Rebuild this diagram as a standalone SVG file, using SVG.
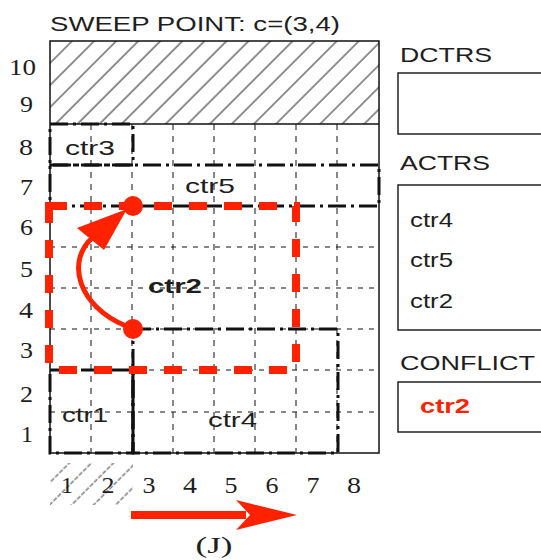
<svg xmlns="http://www.w3.org/2000/svg" width="541" height="560" viewBox="0 0 541 560">
<style>
.sans{font-family:"Liberation Sans",Arial,sans-serif;fill:#1e1e1e;font-size:21px}
.serif{font-family:"Liberation Serif","Times New Roman",serif;fill:#1e1e1e;font-size:24px}
.grid{stroke:#111;stroke-width:1;fill:none}
.ctr{fill:none;stroke:#111;stroke-width:3;stroke-dasharray:18 5 3 5}
.panel{fill:#fff;stroke:#222;stroke-width:1.5}
.red{fill:#ff2200}
</style>
<defs>
<pattern id="hatch" patternUnits="userSpaceOnUse" width="15.6" height="10" patternTransform="rotate(45)">
<line x1="2" y1="0" x2="2" y2="10" stroke="#222" stroke-width="1"/>
</pattern>
<pattern id="hatch2" patternUnits="userSpaceOnUse" width="15.6" height="6" patternTransform="rotate(45)">
<line x1="2" y1="0" x2="2" y2="4.5" stroke="#444" stroke-width="1"/>
</pattern>
</defs>
<rect width="541" height="560" fill="#fff"/>
<text class="sans" x="50" y="31" font-size="23" textLength="290" lengthAdjust="spacingAndGlyphs">SWEEP POINT: c=(3,4)</text>
<g id="sweep-area">
<rect x="50" y="41" width="329" height="83" fill="url(#hatch)"/>
<rect x="50" y="463" width="83" height="42" fill="url(#hatch2)"/>
</g>
<g id="grid">
<g class="grid" stroke-dasharray="6 6">
<line x1="91" y1="124" x2="91" y2="453"/>
<line x1="132" y1="124" x2="132" y2="453"/>
<line x1="173" y1="124" x2="173" y2="453"/>
<line x1="214" y1="124" x2="214" y2="453"/>
<line x1="255" y1="124" x2="255" y2="453"/>
<line x1="296" y1="124" x2="296" y2="453"/>
<line x1="337" y1="124" x2="337" y2="453"/>
</g>
<g class="grid" stroke-dasharray="5 6">
<line x1="50" y1="247" x2="379" y2="247"/>
<line x1="50" y1="288" x2="379" y2="288"/>
<line x1="50" y1="329" x2="379" y2="329"/>
<line x1="50" y1="370" x2="379" y2="370"/>
<line x1="50" y1="412" x2="379" y2="412"/>
</g>
<rect x="50" y="41" width="329" height="412" fill="none" stroke="#111" stroke-width="1.5"/>
<line x1="50" y1="124" x2="379" y2="124" stroke="#111" stroke-width="1.5"/>
</g>
<g id="axis-labels">
<text class="serif" x="36" y="75" text-anchor="end" textLength="27" lengthAdjust="spacingAndGlyphs">10</text>
<text class="serif" x="33" y="112" text-anchor="end" textLength="13" lengthAdjust="spacingAndGlyphs">9</text>
<text class="serif" x="33" y="155" text-anchor="end" textLength="14" lengthAdjust="spacingAndGlyphs">8</text>
<text class="serif" x="33" y="195" text-anchor="end" textLength="13" lengthAdjust="spacingAndGlyphs">7</text>
<text class="serif" x="33" y="235" text-anchor="end" textLength="13" lengthAdjust="spacingAndGlyphs">6</text>
<text class="serif" x="33" y="277" text-anchor="end" textLength="13" lengthAdjust="spacingAndGlyphs">5</text>
<text class="serif" x="33" y="318" text-anchor="end" textLength="14" lengthAdjust="spacingAndGlyphs">4</text>
<text class="serif" x="33" y="358" text-anchor="end" textLength="13" lengthAdjust="spacingAndGlyphs">3</text>
<text class="serif" x="33" y="402" text-anchor="end" textLength="13" lengthAdjust="spacingAndGlyphs">2</text>
<text class="serif" x="33" y="442" text-anchor="end" textLength="12" lengthAdjust="spacingAndGlyphs">1</text>
<text class="serif" x="67" y="493" text-anchor="middle" textLength="12" lengthAdjust="spacingAndGlyphs">1</text>
<text class="serif" x="108" y="493" text-anchor="middle" textLength="13" lengthAdjust="spacingAndGlyphs">2</text>
<text class="serif" x="149" y="493" text-anchor="middle" textLength="13" lengthAdjust="spacingAndGlyphs">3</text>
<text class="serif" x="190" y="493" text-anchor="middle" textLength="14" lengthAdjust="spacingAndGlyphs">4</text>
<text class="serif" x="231" y="493" text-anchor="middle" textLength="13" lengthAdjust="spacingAndGlyphs">5</text>
<text class="serif" x="272" y="493" text-anchor="middle" textLength="13" lengthAdjust="spacingAndGlyphs">6</text>
<text class="serif" x="313" y="493" text-anchor="middle" textLength="13" lengthAdjust="spacingAndGlyphs">7</text>
<text class="serif" x="354" y="493" text-anchor="middle" textLength="14" lengthAdjust="spacingAndGlyphs">8</text>
<text class="serif" x="214" y="553" font-size="28" text-anchor="middle" textLength="37" lengthAdjust="spacingAndGlyphs">(J)</text>
</g>
<g id="ctr3">
<rect class="ctr" x="50" y="124" width="83" height="41"/>
<text class="sans" x="65" y="155" font-size="22" textLength="50" lengthAdjust="spacingAndGlyphs">ctr3</text>
</g>
<g id="ctr5">
<rect class="ctr" x="50" y="165" width="329" height="41"/>
<text class="sans" x="185" y="193" font-size="22" textLength="50" lengthAdjust="spacingAndGlyphs">ctr5</text>
</g>
<g id="ctr1">
<rect class="ctr" x="50" y="370" width="83" height="83"/>
<line x1="133" y1="370" x2="133" y2="453" stroke="#111" stroke-width="3"/>
<text class="sans" x="62" y="422" font-size="22" textLength="46" lengthAdjust="spacingAndGlyphs">ctr1</text>
</g>
<g id="ctr4">
<rect class="ctr" x="133" y="329" width="205" height="124"/>
<text class="sans" x="208" y="427" font-size="22" textLength="49" lengthAdjust="spacingAndGlyphs">ctr4</text>
</g>
<g id="ctr2">
<rect x="49" y="206" width="247" height="164" fill="none" stroke="#ff2200" stroke-width="8" stroke-dasharray="18 17"/>
<text class="sans" x="148" y="293" font-size="22" font-weight="bold" textLength="54" lengthAdjust="spacingAndGlyphs">ctr2</text>
</g>
<g id="connectors">
<path d="M126,326 C78,306 66,262 92,238" fill="none" stroke="#ff2200" stroke-width="5"/>
<polygon class="red" points="127,209 77,228 104,250"/>
<circle class="red" cx="133" cy="206" r="10"/>
<circle class="red" cx="133" cy="329" r="10"/>
<rect class="red" x="131" y="511" width="115" height="8"/>
<polygon class="red" points="297,515 236,500 250,515 236,530"/>
</g>
<g id="dctrs">
<text class="sans" x="400" y="62" font-size="23" textLength="92" lengthAdjust="spacingAndGlyphs">DCTRS</text>
<rect class="panel" x="398" y="73" width="160" height="61"/>
</g>
<g id="actrs">
<text class="sans" x="400" y="170" font-size="23" textLength="90" lengthAdjust="spacingAndGlyphs">ACTRS</text>
<rect class="panel" x="398" y="185" width="160" height="145"/>
<text class="sans" x="410" y="227" textLength="43" lengthAdjust="spacingAndGlyphs">ctr4</text>
<text class="sans" x="410" y="267" textLength="43" lengthAdjust="spacingAndGlyphs">ctr5</text>
<text class="sans" x="410" y="308" textLength="43" lengthAdjust="spacingAndGlyphs">ctr2</text>
</g>
<g id="conflict">
<text class="sans" x="400" y="370" font-size="23" textLength="135" lengthAdjust="spacingAndGlyphs">CONFLICT</text>
<rect class="panel" x="398" y="382" width="160" height="50"/>
<text class="sans" x="420" y="413" font-weight="bold" style="fill:#ff2200" textLength="50" lengthAdjust="spacingAndGlyphs">ctr2</text>
</g>
</svg>
